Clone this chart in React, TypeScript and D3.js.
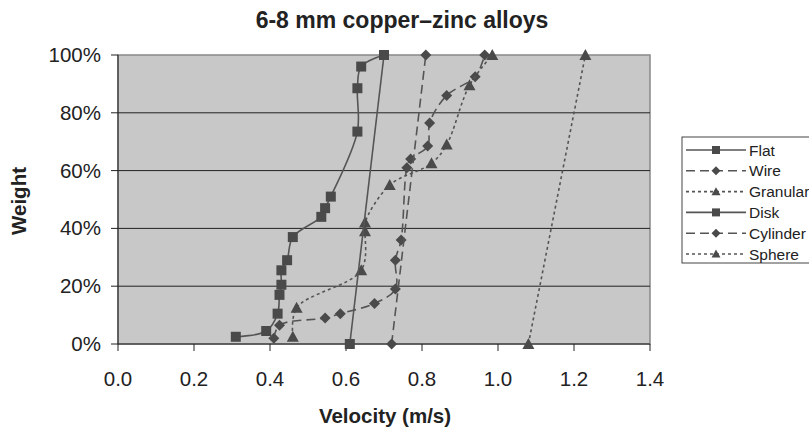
import React from "react";
import * as d3 from "d3";

// velocity (m/s), weight (%)
const flat = [
  [0.31, 2.5], [0.39, 4.5], [0.42, 10.5], [0.425, 17], [0.43, 20.5], [0.43, 25.5],
  [0.445, 29], [0.46, 37], [0.535, 44], [0.545, 47], [0.56, 51], [0.63, 73.5],
  [0.63, 88.5], [0.64, 96], [0.70, 100],
];
const wire = [
  [0.41, 2], [0.425, 6.5], [0.545, 9], [0.585, 10.5], [0.675, 14], [0.73, 19],
  [0.73, 29], [0.745, 36], [0.76, 61], [0.77, 64], [0.815, 68.5], [0.82, 76.5],
  [0.865, 86], [0.94, 92.5], [0.965, 100],
];
const granular = [
  [0.46, 2.5], [0.47, 12.5], [0.64, 25.5], [0.65, 39], [0.65, 42], [0.715, 55],
  [0.825, 62.5], [0.865, 69], [0.925, 89.5], [0.985, 100],
];
const disk = [[0.61, 0], [0.70, 100]];
const cylinder = [[0.72, 0], [0.81, 100]];
const sphere = [[1.08, 0], [1.23, 100]];

const xTicks = [0, 0.2, 0.4, 0.6, 0.8, 1.0, 1.2, 1.4];
const yTicks = [0, 20, 40, 60, 80, 100];

const series = [
  { name: "Flat", data: flat, marker: "square", dash: "", smooth: true },
  { name: "Wire", data: wire, marker: "diamond", dash: "9,5", smooth: true },
  { name: "Granular", data: granular, marker: "triangle", dash: "3,3", smooth: true },
  { name: "Disk", data: disk, marker: "square", dash: "", smooth: false },
  { name: "Cylinder", data: cylinder, marker: "diamond", dash: "9,5", smooth: false },
  { name: "Sphere", data: sphere, marker: "triangle", dash: "3,3", smooth: false },
];

const FONT = "'Liberation Sans', Arial, sans-serif";
const LINE = "#555";
const MARK = "#4a4a4a";

function Marker({ type, x, y, s }: { type: string; x: number; y: number; s: number }) {
  if (type === "square")
    return <rect x={x - s / 2} y={y - s / 2} width={s} height={s} fill={MARK} />;
  if (type === "diamond") {
    const r = s / 2 + 0.5;
    return <path d={`M${x},${y - r}L${x + r},${y}L${x},${y + r}L${x - r},${y}Z`} fill={MARK} />;
  }
  const h = s;
  return (
    <path d={`M${x},${y - h * 0.55}L${x + s / 2 + 0.5},${y + h * 0.45}L${x - s / 2 - 0.5},${y + h * 0.45}Z`} fill={MARK} />
  );
}

export default function App() {
  const W = 809, H = 431;
  const m = { left: 118, right: 650, top: 55, bottom: 344 };
  const x = d3.scaleLinear().domain([0, 1.4]).range([m.left, m.right]);
  const y = d3.scaleLinear().domain([0, 100]).range([m.bottom, m.top]);

  const smoothLine = d3.line<number[]>().x((d) => x(d[0])).y((d) => y(d[1])).curve(d3.curveCatmullRom.alpha(0.5));
  const straightLine = d3.line<number[]>().x((d) => x(d[0])).y((d) => y(d[1]));

  const legX = 682, legY = 137, legRow = 20.8;

  return (
    <svg width={W} height={H} style={{ position: "absolute", left: 0, top: 0, background: "#fff" }} fontFamily={FONT}>
      <text x={402} y={28} textAnchor="middle" fontSize={23} fontWeight="bold" fill="#222">
        6-8 mm copper–zinc alloys
      </text>

      {/* plot area */}
      <rect x={m.left} y={m.top} width={m.right - m.left} height={m.bottom - m.top} fill="#c8c8c8" stroke="#888" strokeWidth={1.5} />
      {yTicks.filter((t) => t > 0 && t < 100).map((t) => (
        <line key={t} x1={m.left} x2={m.right} y1={y(t)} y2={y(t)} stroke="#222" strokeWidth={1} />
      ))}

      {/* axes */}
      <line x1={m.left} x2={m.left} y1={m.top} y2={m.bottom} stroke="#222" strokeWidth={1} />
      <line x1={m.left} x2={m.right} y1={m.bottom} y2={m.bottom} stroke="#222" strokeWidth={1} />
      {yTicks.map((t) => (
        <g key={t}>
          <line x1={m.left - 7} x2={m.left} y1={y(t)} y2={y(t)} stroke="#222" />
          <text x={101} y={y(t) + 7} textAnchor="end" fontSize={20.5} fill="#222">{t}%</text>
        </g>
      ))}
      {xTicks.map((t) => (
        <g key={t}>
          <line x1={x(t)} x2={x(t)} y1={m.bottom} y2={m.bottom + 7} stroke="#222" />
          <text x={x(t)} y={386} textAnchor="middle" fontSize={20.5} fill="#222">{t.toFixed(1)}</text>
        </g>
      ))}
      <text x={385} y={423} textAnchor="middle" fontSize={20.5} fontWeight="bold" fill="#222">Velocity (m/s)</text>
      <text transform="translate(26,201) rotate(-90)" textAnchor="middle" fontSize={20.5} fontWeight="bold" fill="#222">Weight</text>

      {/* series */}
      {series.map((s) => (
        <g key={s.name}>
          <path
            d={(s.smooth ? smoothLine : straightLine)(s.data) || ""}
            fill="none"
            stroke={LINE}
            strokeWidth={1.6}
            strokeDasharray={s.dash || undefined}
          />
          {s.data.map((d, i) => (
            <Marker key={i} type={s.marker} x={x(d[0])} y={y(d[1])} s={s.marker === "triangle" ? 11 : 10} />
          ))}
        </g>
      ))}

      {/* legend */}
      <rect x={legX} y={legY} width={150} height={126} fill="#fff" stroke="#444" strokeWidth={1} />
      {series.map((s, i) => {
        const cy = legY + 13 + i * legRow;
        return (
          <g key={s.name}>
            <line x1={686} x2={746} y1={cy} y2={cy} stroke={LINE} strokeWidth={1.6} strokeDasharray={s.dash || undefined} />
            <Marker type={s.marker} x={716} y={cy} s={8} />
            <text x={749} y={cy + 5.5} fontSize={15.5} fill="#222">{s.name}</text>
          </g>
        );
      })}
    </svg>
  );
}
